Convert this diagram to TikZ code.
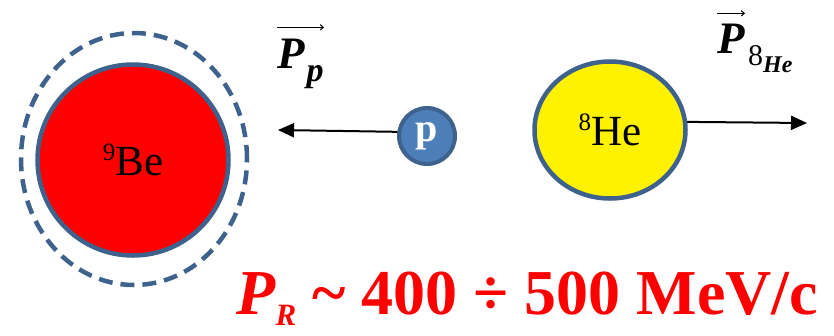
\documentclass[tikz,border=0pt]{standalone}
\usepackage{fontspec}
\setmainfont{Liberation Serif}
\usepackage{tikz}
\usetikzlibrary{shapes.geometric,arrows.meta,positioning}
\definecolor{rimblue}{RGB}{62,98,140}
\definecolor{protonblue}{RGB}{76,126,186}
\newcommand{\isotope}[2]{\raisebox{15pt}{\fontsize{25}{25}\selectfont #1}#2}
\tikzset{
  nucleus/.style={
    draw = rimblue,
    line width = 4.5pt,
    inner sep = 0pt,
    font = \fontsize{43}{43}\selectfont
  },
  shell/.style={
    draw = rimblue,
    line width = 4.5pt,
    dash pattern = on 14pt off 8pt,
    shape = ellipse,
    inner sep = 0pt
  },
  momentum/.style={
    line width = 2pt,
    -{Triangle[length=16pt,width=14pt]}
  },
  overarrow/.style={
    line width = 1pt,
    -{To[length=4pt,width=6pt]}
  },
  vlabel/.style={
    inner sep = 0pt,
    anchor = base west,
    font = \fontsize{45}{45}\selectfont\bfseries\itshape
  }
}
\begin{document}
\begin{tikzpicture}[x=1pt,y=-1pt]
  \useasboundingbox (0,0) rectangle (834,335);
  %
  \node[shell, minimum width=226pt, minimum height=252pt] (Shell) at (134,159) {};
  \node[nucleus, circle, fill=red, minimum size=191pt] (Be) at (133,160) {\isotope{9}{Be}};
  %
  \node[nucleus, circle, draw=rimblue, line width=4pt, fill=protonblue, minimum size=56pt,
        text=white, font=\fontsize{40}{40}\selectfont\bfseries] (p) at (427,136) {p};
  \coordinate (pEnd) at (278,130);
  \draw[momentum] (p.172) -- (pEnd);
  %
  \node[nucleus, ellipse, fill=yellow, minimum width=151pt, minimum height=137pt] (He) at (610,130) {\isotope{8}{He}};
  \coordinate (HeEnd) at (807,123);
  \draw[momentum] (He.6) -- (HeEnd);
  %
  \node[vlabel] (Pp) at (277,68) {P\kern2pt\raisebox{-13pt}{\fontsize{34}{34}\selectfont p}};
  \draw[overarrow] ([yshift=11pt]Pp.north west) -- ([yshift=11pt]Pp.north east);
  %
  \node[vlabel] (PHe) at (717,53) {P};
  \node[inner sep=0pt, anchor=base west, font=\fontsize{30}{30}\selectfont]
        (subHe) at ([xshift=3pt,yshift=-12pt]PHe.base east)
        {8\raisebox{-7pt}{\fontsize{24}{24}\selectfont\bfseries\itshape He}};
  \draw[overarrow] ([yshift=10pt]PHe.north west) -- ([yshift=10pt]PHe.north east);
  %
  \node[inner sep=0pt, anchor=base west, text=red, font=\fontsize{64}{64}\selectfont\bfseries]
        (PR) at (236,314)
        {\textit{P}\raisebox{-11pt}{\fontsize{31}{31}\selectfont\textit{R}} \textasciitilde{} 400 \textdiv{} 500 MeV/c};
\end{tikzpicture}
\end{document}
